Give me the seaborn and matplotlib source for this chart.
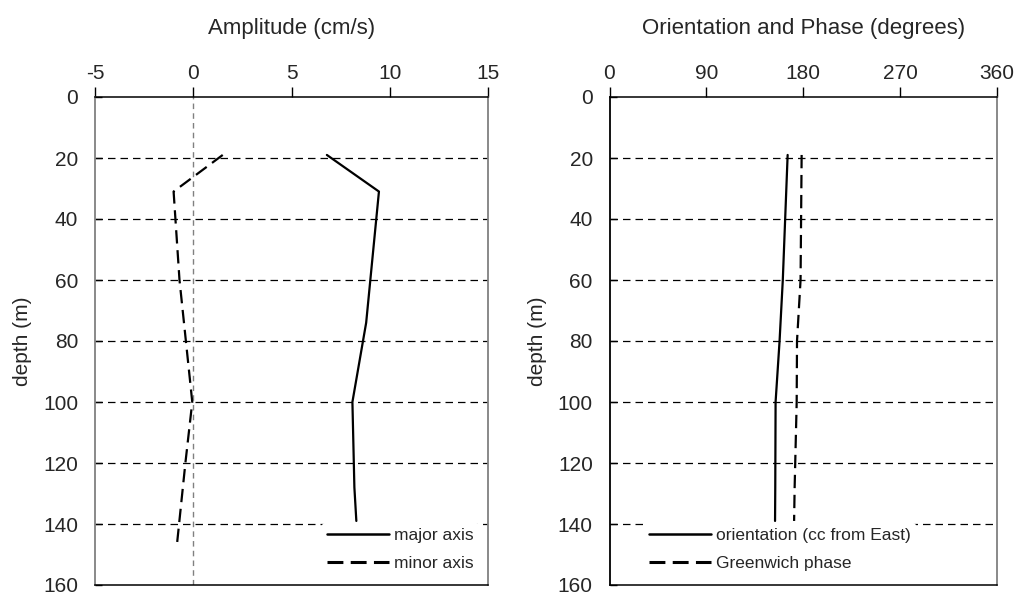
import seaborn as sns
import matplotlib.pyplot as plt
import pandas as pd

# datos
depth_major = [19, 31, 74, 100, 128, 139]
major_axis = [6.8, 9.45, 8.8, 8.1, 8.2, 8.3]

depth_minor = [19, 31, 60, 100, 120, 148]
minor_axis = [1.5, -1.0, -0.7, -0.05, -0.4, -0.85]

depth_orient = [19, 60, 80, 100, 128, 139]
orientation = [165.5, 161, 158, 154.3, 154, 153.8]
greenwich_phase = [178.5, 177.5, 174.2, 173.9, 172, 171.5]

amp_ticks = [-5, 0, 5, 10, 15]
deg_ticks = [0, 90, 180, 270, 360]
depth_ticks = [0, 20, 40, 60, 80, 100, 120, 140, 160]

sns.set_theme(style='white')
plt.rcParams['font.family'] = ['Liberation Sans', 'DejaVu Sans']
plt.rcParams['axes.unicode_minus'] = False

fig = plt.figure(figsize=(10.21, 5.98), dpi=100)
W, H = 1021, 598
ax1 = fig.add_axes([95 / W, 1 - 585 / H, (488 - 95) / W, (585 - 97) / H])
ax2 = fig.add_axes([609.5 / W, 1 - 585 / H, (997 - 609.5) / W, (585 - 97) / H])

df_major = pd.DataFrame({'depth': depth_major, 'amp': major_axis})
df_minor = pd.DataFrame({'depth': depth_minor, 'amp': minor_axis})
df_orient = pd.DataFrame({'depth': depth_orient, 'ori': orientation, 'pha': greenwich_phase})

dash = (6, 3)

# panel izquierdo: amplitud
ax1.axvline(0, color='#808080', lw=1, ls=(0, (4, 3)), zorder=1)
sns.lineplot(data=df_major, x='amp', y='depth', orient='y', ax=ax1, color='black',
             lw=1.6, label='major axis')
sns.lineplot(data=df_minor, x='amp', y='depth', orient='y', ax=ax1, color='black',
             lw=1.6, label='minor axis', linestyle=(0, dash))
ax1.set_xlim(-5, 15)
ax1.set_xticks(amp_ticks)

# panel derecho: orientación y fase
sns.lineplot(data=df_orient, x='ori', y='depth', orient='y', ax=ax2, color='black',
             lw=1.6, label='orientation (cc from East)')
sns.lineplot(data=df_orient, x='pha', y='depth', orient='y', ax=ax2, color='black',
             lw=1.6, label='Greenwich phase', linestyle=(0, dash))
ax2.set_xlim(0, 360)
ax2.set_xticks(deg_ticks)

for ax, xlabel in [(ax1, 'Amplitude (cm/s)'), (ax2, 'Orientation and Phase (degrees)')]:
    ax.set_ylim(160, 0)
    ax.set_yticks(depth_ticks)
    for d in depth_ticks[1:-1]:
        ax.axhline(d, color='black', lw=0.9, ls=(0, (6, 4)), zorder=0)
    ax.xaxis.tick_top()
    ax.xaxis.set_label_position('top')
    ax.set_xlabel(xlabel, fontsize=16, labelpad=22)
    ax.set_ylabel('depth (m)', fontsize=15, labelpad=8)
    ax.tick_params(axis='x', direction='out', length=7, width=1, pad=3,
                   labelsize=15, color='black')
    ax.tick_params(axis='y', direction='in', length=5, width=1, pad=12,
                   labelsize=15, color='black', left=True)
    for side in ['top', 'bottom']:
        ax.spines[side].set_color('black')
        ax.spines[side].set_linewidth(1.1)
    for side in ['left', 'right']:
        ax.spines[side].set_color('#808080')
        ax.spines[side].set_linewidth(1.3)
    ax.spines['left'].set_color('black' if ax is ax2 else '#808080')

leg_kw = dict(fontsize=12.5, handlelength=3.6, handletextpad=0.3, labelspacing=0.75,
              frameon=True, facecolor='white', edgecolor='none', framealpha=1,
              borderpad=0.3)
leg1 = ax1.legend(loc='lower right', bbox_to_anchor=(1.0, 0.0), **leg_kw)
leg2 = ax2.legend(loc='lower left', bbox_to_anchor=(0.065, 0.0), **leg_kw)
for leg in [leg1, leg2]:
    lines = leg.get_lines()
    lines[0].set_linewidth(1.8)
    lines[1].set_linewidth(2.2)
    lines[1].set_linestyle((0, (5.2, 2.4)))

fig.savefig('out.png', dpi=100)
